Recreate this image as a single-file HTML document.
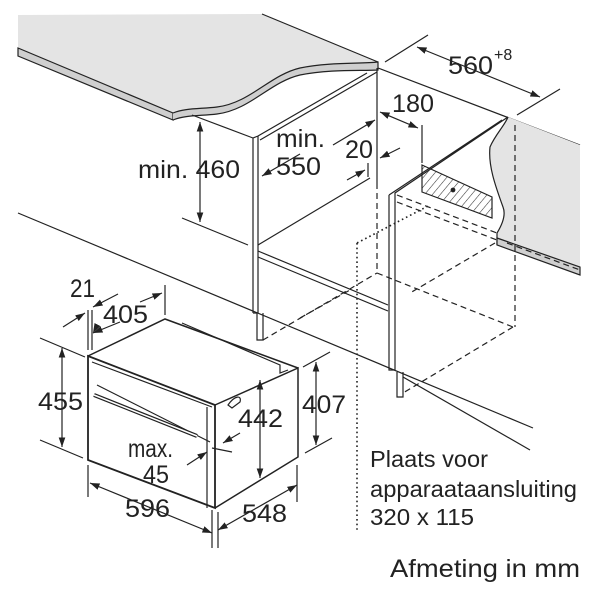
<!DOCTYPE html>
<html><head><meta charset="utf-8"><style>
html,body{margin:0;padding:0;background:#fff}
svg{display:block}
text{font-family:"Liberation Sans",Arial,sans-serif;fill:#222}
</style></head><body>
<svg width="600" height="600" viewBox="0 0 600 600" xmlns="http://www.w3.org/2000/svg">
<defs>
<marker id="a" viewBox="0 0 10 10" refX="10" refY="5" markerWidth="8" markerHeight="8" orient="auto-start-reverse"><path d="M0,1.5 L10,5 L0,8.5 z" fill="#222"/></marker>
<pattern id="h" width="6" height="6" patternUnits="userSpaceOnUse" patternTransform="rotate(40)"><line x1="0" y1="0" x2="0" y2="6" stroke="#333" stroke-width="1.1"/></pattern>
</defs>
<g stroke="#222" stroke-width="1.2" fill="none">
<!-- left countertop -->
<path d="M18,15 L262,14 L378,62 C360,64 330,62 300,68 C270,75 250,103 217,107 C200,109 185,108 173,113 L18,48 Z" fill="#e4e4e4" stroke="none"/>
<path d="M262,14 L378,62"/>
<path d="M18,48 L173,113 L173,120 L18,56 Z" fill="#cfcfcf"/>
<path d="M173,113 C185,108 200,109 217,107 C250,103 270,75 300,68 C330,62 360,64 378,62 L378,70 C360,71 330,69 300,75 C270,82 250,110 217,114 C200,116 185,115 173,120" fill="#cfcfcf"/>
<path d="M378,68 L580,145"/>
<!-- right countertop -->
<path d="M508,117 L580,145 L580,267 L497,245 L497,233 C505,220 505,212 503,207 C495,185 488,165 490,147 C495,135 505,125 508,117 Z" fill="#e4e4e4" stroke="none"/>
<path d="M508,117 C505,125 495,135 490,147 C488,165 495,185 503,207 C505,212 505,220 497,233 L497,245"/>
<path d="M497,238 L580,267 L580,275 L497,245 Z" fill="#cfcfcf"/>
<!-- left cabinet -->
<path d="M192,115 L253,138"/>
<path d="M253,138 L253,313 M258,136 L258,313 M253,138 L258,136"/>
<path d="M258,136 L367,73 M260,140 L377,72"/>
<path d="M377,68 L377,183"/>
<path d="M258,245 L370,178"/>
<path d="M258,251 L388,305 M258,257 L388,311"/>
<path d="M253,313 L257,313 L257,340 L263,340 L263,313"/>
<!-- right cabinet -->
<path d="M389,195 L389,370 L395,370 L395,193 L508,117 M389,195 L502,120"/>
<path d="M397,372 L397,397 L403,397 L403,372"/>
<path d="M422,165 L422,192 L492,218 L492,197 Z" fill="url(#h)"/>
<circle cx="453" cy="190" r="1.8" fill="#222"/>
<!-- floor lines -->
<path d="M18,213 L533,428"/>
<path d="M403,377 L530,450"/>
<path d="M182,218 L248,245"/>
<!-- dashed -->
<g stroke-dasharray="6,4">
<path d="M377,183 L377,273"/>
<path d="M515,125 L515,327"/>
<path d="M397,195 L497,233 M397,202 L497,240"/>
<path d="M507,243 L580,270"/>
<path d="M495,243 L410,293"/>
<path d="M263,340 L377,273 M377,273 L513,327 M513,327 L403,393"/>
<path d="M300,318 L350,290"/>
</g>
<g stroke-dasharray="1.6,3" stroke-width="1.6">
<path d="M357,243 L357,530"/>
<path d="M357,243 L430,205"/>
</g>
<!-- oven -->
<path d="M88,356 L215,405 L215,508 L88,460 Z" stroke-width="1.8"/>
<path d="M215,405 L298,368 L298,457 L215,508" stroke-width="1.5"/>
<path d="M88,356 L165,319 L298,368" stroke-width="1.5"/>
<path d="M92,362 L212,407 M97,385 L210,442"/>
<path d="M207,407 L207,508"/>
<path d="M94,395 L197,436" stroke-width="4"/>
<path d="M94,395 L197,436" stroke-width="1.5" stroke="#fff"/>
<path d="M182,323 L280,365 L280,373 L288,370"/>
<path d="M228,405 C235,395 242,395 240,402 L232,408 Z"/>
<!-- dims -->
<g marker-start="url(#a)" marker-end="url(#a)">
<path d="M200,122 L200,222"/>
<path d="M417,47 L540,97"/>
<path d="M380,112 L418,128"/>
<path d="M62,348 L62,447"/>
<path d="M316,362 L316,445"/>
<path d="M260,380 L260,478"/>
<path d="M90,483 L212,533"/>
<path d="M218,530 L297,485"/>
</g>
<g marker-end="url(#a)">
<path d="M333,145 L375,120"/>
<path d="M300,154 L262,176" />
<path d="M400,148 L380,158"/>
<path d="M347,180 L365,170"/>
<path d="M63,327 L85,313"/>
<path d="M118,294 L93,307"/>
<path d="M100,320 L93,333" stroke="none"/>
<path d="M120,322 L93,333"/>
<path d="M140,302 L162,293"/>
<path d="M240,433 L223,443"/>
<path d="M187,465 L207,452"/>
</g>
<path d="M385,62 L428,35 M517,115 L560,89 M422,125 L422,163 M368,163 L368,177"/>
<path d="M40,338 L85,357 M40,440 L83,458 M303,367 L330,352 M305,453 L332,438"/>
<path d="M88,310 L88,350 M92,310 L92,350 M165,285 L165,315"/>
<path d="M88,465 L88,497 M212,510 L212,548 M218,512 L218,548 M297,465 L297,502"/>
<path d="M212,448 L232,452"/>
</g>
<text x="138" y="178" font-size="25" textLength="102" lengthAdjust="spacingAndGlyphs">min. 460</text>
<text x="276" y="147" font-size="25" textLength="49" lengthAdjust="spacingAndGlyphs">min.</text>
<text x="276" y="175" font-size="25" textLength="45" lengthAdjust="spacingAndGlyphs">550</text>
<text x="345" y="158" font-size="25" textLength="28" lengthAdjust="spacingAndGlyphs">20</text>
<text x="392" y="112" font-size="25" textLength="42" lengthAdjust="spacingAndGlyphs">180</text>
<text x="448" y="74" font-size="25" textLength="45" lengthAdjust="spacingAndGlyphs">560</text><text x="494" y="60" font-size="16">+8</text>
<text x="70" y="297" font-size="25" textLength="25" lengthAdjust="spacingAndGlyphs">21</text>
<text x="103" y="323" font-size="25" textLength="45" lengthAdjust="spacingAndGlyphs">405</text>
<text x="38" y="410" font-size="25" textLength="45" lengthAdjust="spacingAndGlyphs">455</text>
<text x="238" y="427" font-size="25" textLength="45" lengthAdjust="spacingAndGlyphs">442</text>
<text x="302" y="413" font-size="25" textLength="44" lengthAdjust="spacingAndGlyphs">407</text>
<text x="128" y="457" font-size="25" textLength="45" lengthAdjust="spacingAndGlyphs">max.</text>
<text x="143" y="483" font-size="25" textLength="26" lengthAdjust="spacingAndGlyphs">45</text>
<text x="125" y="517" font-size="25" textLength="45" lengthAdjust="spacingAndGlyphs">596</text>
<text x="242" y="522" font-size="25" textLength="45" lengthAdjust="spacingAndGlyphs">548</text>
<text x="370" y="467" font-size="23" textLength="118" lengthAdjust="spacingAndGlyphs">Plaats voor</text>
<text x="370" y="497" font-size="23" textLength="207" lengthAdjust="spacingAndGlyphs">apparaataansluiting</text>
<text x="370" y="525" font-size="23" textLength="104" lengthAdjust="spacingAndGlyphs">320 x 115</text>
<text x="390" y="577" font-size="25" textLength="190" lengthAdjust="spacingAndGlyphs">Afmeting in mm</text>
</svg>
</body></html>
